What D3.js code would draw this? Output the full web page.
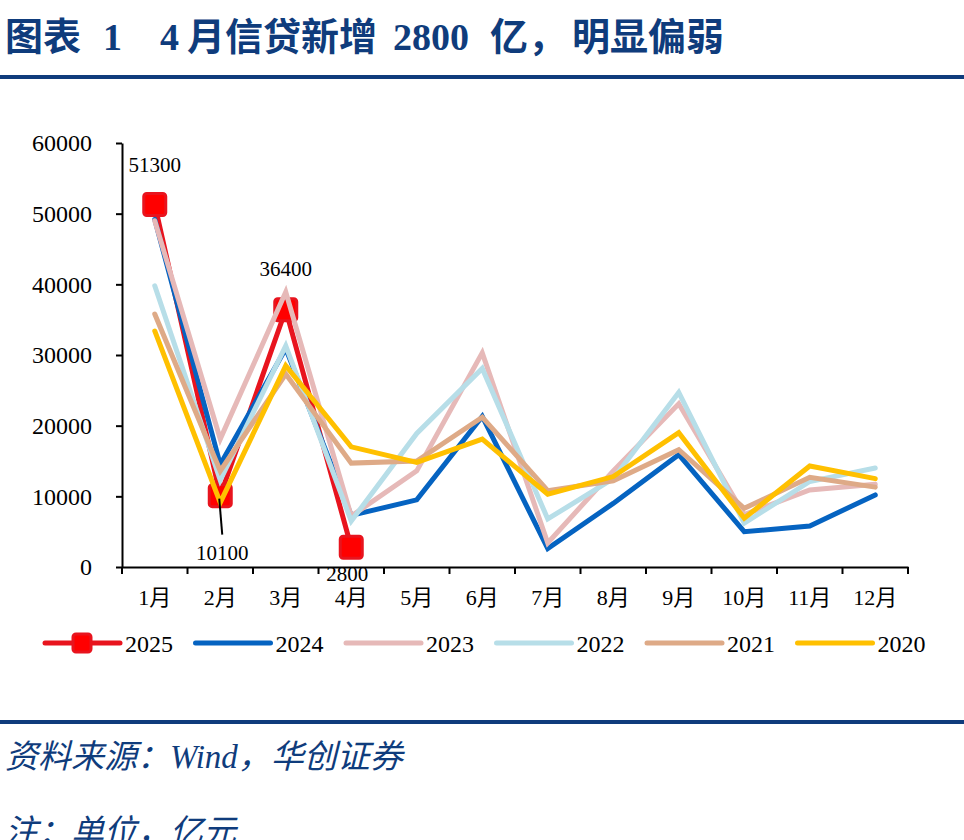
<!DOCTYPE html>
<html>
<head>
<meta charset="utf-8">
<script src="https://cdn.jsdelivr.net/npm/d3@7"></script>
<style>
  body { margin: 0; background: #fff; }
  svg { display: block; }
</style>
</head>
<body>
<svg id="chart" width="964" height="840"></svg>
<script>
const months = ["1月", "2月", "3月", "4月", "5月", "6月", "7月", "8月", "9月", "10月", "11月", "12月"];
const yTicks = [0, 10000, 20000, 30000, 40000, 50000, 60000];

const y2025 = [51300, 10100, 36400, 2800];
const y2024 = [49200, 14500, 30900, 7300, 9500, 21300, 2600, 9000, 15900, 5000, 5800, 10200];
const y2023 = [49000, 18100, 38900, 7200, 13600, 30300, 3400, 13600, 23100, 7400, 10900, 11700];
const y2022 = [39800, 12300, 31300, 6500, 18900, 28100, 6800, 12500, 24700, 6200, 12100, 14000];
const y2021 = [35800, 13600, 27300, 14700, 15000, 21200, 10800, 12200, 16600, 8300, 12700, 11300];
const y2020 = [33400, 9100, 28500, 17000, 14800, 18100, 10300, 12800, 19000, 6900, 14300, 12500];

const seriesNames = ["2025", "2024", "2023", "2022", "2021", "2020"];
const seriesColors = ["#E8141E", "#0563C1", "#E6B9B8", "#B7DEE8", "#DEAA87", "#FFC000"];
const seriesData = [y2025, y2024, y2023, y2022, y2021, y2020];

const navy = "#0F3C7C";
const serif = "'Liberation Serif', 'Times New Roman', 'Noto Sans CJK SC', serif";

let svg = d3.select("#chart");

// title
let title = svg.append("text")
    .attr("y", 50)
    .attr("fill", navy)
    .style("font-family", serif)
    .style("font-weight", "bold")
    .style("font-size", "38px");
[["图表", 5], ["1", 103], ["4", 160], ["月信贷新增", 187], ["2800", 393], ["亿，", 490], ["明显偏弱", 572]]
    .forEach(p => title.append("tspan").attr("x", p[1]).text(p[0]));

svg.append("rect").attr("x", 0).attr("y", 75).attr("width", 964).attr("height", 4).attr("fill", navy);
svg.append("rect").attr("x", 0).attr("y", 720).attr("width", 964).attr("height", 4).attr("fill", navy);

svg.append("text")
    .attr("x", 5).attr("y", 768)
    .attr("fill", navy)
    .style("font-family", serif)
    .style("font-style", "italic")
    .style("font-size", "33px")
    .text("资料来源：Wind，华创证券");

svg.append("text")
    .attr("x", 5).attr("y", 843)
    .attr("fill", navy)
    .style("font-family", serif)
    .style("font-style", "italic")
    .style("font-size", "33px")
    .text("注：单位，亿元");

// plot area
let margin = {left: 122, top: 143};
let width = 786, height = 424;

let g = svg.append("g").attr("transform", `translate(${margin.left},${margin.top})`);

let x = d3.scaleBand().domain(months).range([0, width]);
let y = d3.scaleLinear().domain([0, 60000]).range([height, 0]);
let cx = m => x(m) + x.bandwidth() / 2;

let line = d3.line()
    .x((d, i) => cx(months[i]))
    .y(d => y(d));

// 2025 first so later years sit on top
seriesData.forEach((vals, k) => {
    g.append("path")
        .datum(vals)
        .attr("d", line)
        .attr("fill", "none")
        .attr("stroke", seriesColors[k])
        .attr("stroke-width", 5)
        .attr("stroke-linecap", "round");
    if (k === 0) {
        g.selectAll(".mk")
            .data(vals)
            .join("rect")
            .attr("class", "mk")
            .attr("x", (d, i) => cx(months[i]) - 11)
            .attr("y", d => y(d) - 11)
            .attr("width", 22)
            .attr("height", 22)
            .attr("rx", 3)
            .attr("fill", "#FF0000")
            .attr("stroke", "#E8141E")
            .attr("stroke-width", 3);
    }
});

// data labels for 2025
let labelOffsets = [[0, -32], [2, 64], [0, -34], [-4, 34]];
g.selectAll(".dl")
    .data(y2025)
    .join("text")
    .attr("class", "dl")
    .attr("x", (d, i) => cx(months[i]) + labelOffsets[i][0])
    .attr("y", (d, i) => y(d) + labelOffsets[i][1])
    .attr("text-anchor", "middle")
    .style("font-family", serif)
    .style("font-size", "21px")
    .text(d => d);

// leader line for the Feb label
g.append("line")
    .attr("x1", cx(months[1]) - 1).attr("y1", y(y2025[1]) + 3)
    .attr("x2", cx(months[1]) + 2).attr("y2", y(y2025[1]) + 39)
    .attr("stroke", "#000")
    .attr("stroke-width", 2);

// axes
let yAxis = g.append("g")
    .call(d3.axisLeft(y).tickValues(yTicks).tickSize(6).tickSizeOuter(0).tickPadding(24).tickFormat(d => d));
let xAxis = g.append("g")
    .attr("transform", `translate(0,${height})`)
    .call(d3.axisBottom(x).tickSize(0).tickPadding(22));

xAxis.selectAll(".tick").append("line")
    .attr("x1", -x.bandwidth() / 2).attr("x2", -x.bandwidth() / 2)
    .attr("y1", 0).attr("y2", 7)
    .attr("stroke", "#000").attr("stroke-width", 2);
g.append("line")
    .attr("x1", width).attr("x2", width).attr("y1", height).attr("y2", height + 7)
    .attr("stroke", "#000").attr("stroke-width", 2);

[yAxis, xAxis].forEach(a => {
    a.select(".domain").attr("stroke", "#000").attr("stroke-width", 2);
    a.selectAll(".tick line").attr("stroke", "#000").attr("stroke-width", 2);
    a.selectAll("text")
        .attr("fill", "#000")
        .style("font-family", serif)
        .style("font-size", "22px");
});
yAxis.selectAll("text").style("font-size", "24px");
xAxis.selectAll("text").attr("dy", "0.71em");

// legend
let legend = svg.append("g").attr("transform", "translate(45,643)");
let items = legend.selectAll("g")
    .data(seriesNames)
    .join("g")
    .attr("transform", (d, i) => `translate(${i * 150.5},0)`);
items.append("line")
    .attr("x1", 0).attr("x2", 75)
    .attr("stroke", (d, i) => seriesColors[i])
    .attr("stroke-width", 5)
    .attr("stroke-linecap", "round");
items.filter((d, i) => i === 0).append("rect")
    .attr("x", 28).attr("y", -9).attr("width", 18).attr("height", 18).attr("rx", 3)
    .attr("fill", "#FF0000").attr("stroke", "#E8141E").attr("stroke-width", 3);
items.append("text")
    .attr("x", 80).attr("y", 9)
    .style("font-family", serif)
    .style("font-size", "24px")
    .text(d => d);
</script>
</body>
</html>
